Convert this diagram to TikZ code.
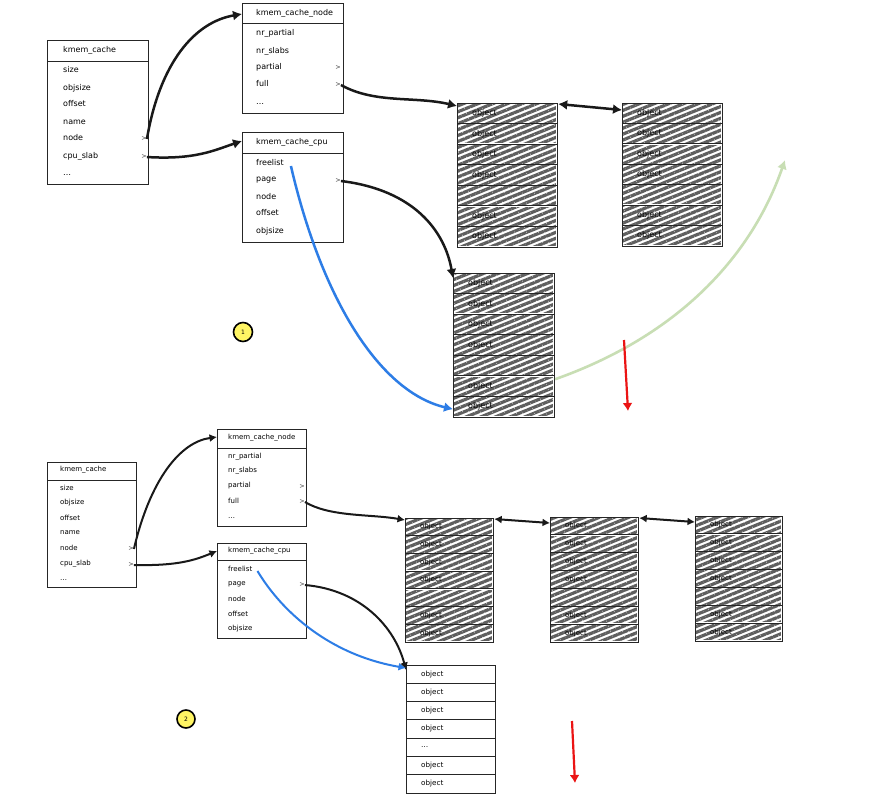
\documentclass[tikz,border=0pt]{standalone}
\usepackage{fontspec}
\setmainfont{DejaVu Sans}
\usetikzlibrary{arrows.meta,patterns.meta,calc}
\definecolor{hatchgray}{RGB}{95,95,95}
\definecolor{myblue}{RGB}{45,125,230}
\definecolor{mygreen}{RGB}{200,222,180}
\definecolor{myred}{RGB}{235,20,20}
\definecolor{myyellow}{RGB}{255,245,100}
\tikzset{
  box/.style={draw=black!85, line width=1.2pt, anchor=north west, inner sep=0pt},
  sepline/.style={draw=black!85, line width=0.9pt},
  fbig/.style={anchor=west, inner sep=0pt, font=\fontsize{8}{9}\selectfont},
  fsmall/.style={anchor=west, inner sep=0pt, font=\fontsize{7}{8}\selectfont},
  chev/.style={anchor=center, inner sep=0pt, font=\fontsize{6.5}{7}\selectfont, text=black!75},
  objbig/.style={anchor=west, inner sep=0pt, font=\fontsize{8}{9}\selectfont, text=black},
  objsmall/.style={anchor=west, inner sep=0pt, font=\fontsize{7}{8}\selectfont, text=black},
  objplain/.style={anchor=west, inner sep=0pt, font=\fontsize{7.2}{8}\selectfont},
  hatch/.style={pattern={Lines[angle=22,distance=5.5pt,line width=3.2pt]}, pattern color=hatchgray},
  plainrow/.style={},
  link/.style={line width=2.5pt, draw=black!90, -{Latex[length=9pt,width=10pt]}},
  dlink/.style={line width=2.5pt, draw=black!90, {Latex[length=9pt,width=10pt]}-{Latex[length=9pt,width=10pt]}},
  linkS/.style={line width=2pt, draw=black!90, -{Latex[length=7.5pt,width=8pt]}},
  dlinkS/.style={line width=2pt, draw=black!90, {Latex[length=7.5pt,width=8pt]}-{Latex[length=7.5pt,width=8pt]}},
  bluelink/.style={line width=2.5pt, draw=myblue, -{Latex[length=9pt,width=10pt]}},
  bluelinkS/.style={line width=2pt, draw=myblue, -{Latex[length=7.5pt,width=8pt]}},
  greenlink/.style={line width=2.6pt, draw=mygreen, -{Latex[length=9pt,width=10pt]}},
  redlink/.style={line width=2.2pt, draw=myred, -{Latex[length=8pt,width=10pt]}},
  badge/.style={circle, draw=black, line width=1.6pt, fill=myyellow, minimum size=19pt, inner sep=0pt, font=\fontsize{6}{7}\selectfont}
}
% slab: name, x, y, w, h, fill style, text style, labels
\newcommand{\slabstack}[8]{%
  \foreach \lab [count=\i from 0] in {#8} {
    \pgfmathsetmacro{\ya}{#3+\i*#5/7}
    \pgfmathsetmacro{\yb}{#3+(\i+1)*#5/7}
    \pgfmathsetmacro{\ym}{(\ya+\yb)/2}
    \path[#6] (#2+1.2,\ya+1.2) rectangle (#2+#4-1.2,\yb-1.2);
    \ifnum\i>0 \draw[sepline] (#2,\ya) -- (#2+#4,\ya); \fi
    \node[#7] (#1-r\i) at (#2+15,\ym) {\lab};
  }
  \node[box, minimum width=#4pt, minimum height=#5pt] (#1) at (#2,#3) {};
}
% fields: prefix, x, style, list text/y
\newcommand{\fieldlist}[4]{%
  \foreach \t/\yy [count=\k] in {#4} {\node[#3] (#1-f\k) at (#2,\yy) {\t};}
}
\begin{document}
\begin{tikzpicture}[x=1pt,y=-1pt]
\fill[white] (0,0) rectangle (884,801);
\useasboundingbox (0,0) rectangle (884,801);

% ---------------- section 1 ----------------
\node[box, minimum width=101pt, minimum height=144pt] (kc1) at (47,40) {};
\node[fbig] (kc1-t) at (63,50) {kmem\_cache};
\draw[sepline] (47,61) -- (148,61);
\fieldlist{kc1}{63}{fbig}{size/70, objsize/88, offset/104, name/122, node/138, cpu\_slab/156, \ldots/175}
\node[chev] (kc1-gn) at (144,139) {>};
\node[chev] (kc1-gc) at (144,157) {>};

\node[box, minimum width=101pt, minimum height=110pt] (kn1) at (242,3) {};
\node[fbig] (kn1-t) at (256,13) {kmem\_cache\_node};
\draw[sepline] (242,23) -- (343,23);
\fieldlist{kn1}{256}{fbig}{nr\_partial/33, nr\_slabs/51, partial/67, full/84, \ldots/104}
\node[chev] (kn1-gp) at (338,68) {>};
\node[chev] (kn1-gf) at (338,85) {>};

\node[box, minimum width=101pt, minimum height=110pt] (kp1) at (242,132) {};
\node[fbig] (kp1-t) at (256,142) {kmem\_cache\_cpu};
\draw[sepline] (242,153) -- (343,153);
\fieldlist{kp1}{256}{fbig}{freelist/163, page/180, node/197, offset/213, objsize/231}
\node[chev] (kp1-gp) at (338,181) {>};

\slabstack{sA}{457}{103}{100}{144}{hatch}{objbig}{object,object,object,object,{},object,object}
\slabstack{sB}{622}{103}{100}{143}{hatch}{objbig}{object,object,object,object,{},object,object}
\slabstack{sC}{453}{273}{101}{144}{hatch}{objbig}{object,object,object,object,{},object,object}

\node[badge] (b1) at (243,332) {1};
\coordinate (g1) at (785,160);
\coordinate (r1a) at (624,340);
\coordinate (r1b) at (628,411);

\draw[link] (kc1-gn.east) .. controls (160,62) and (195,22) .. ([yshift=-11pt]kn1.north west);
\draw[link] (kc1-gc.east) .. controls (195,160) and (215,150) .. ([yshift=-9pt]kp1.north west);
\draw[link] (kn1-gf.east) .. controls (375,104) and (415,96) .. ([yshift=-3pt]sA.north west);
\draw[dlink] ([yshift=-1pt]sA.north east) -- ([yshift=-7pt]sB.north west);
\draw[link] (kp1-gp.east) .. controls (415,190) and (445,232) .. ([yshift=-5pt]sC.north west);
\draw[bluelink] ([xshift=7pt,yshift=-3pt]kp1-f1.east) .. controls (322,300) and (380,392) .. ([yshift=9pt]sC.south west);
\draw[greenlink] ([yshift=39pt]sC.south east) .. controls (680,335) and (752,255) .. (g1);
\draw[redlink] (r1a) -- (r1b);

% ---------------- section 2 ----------------
\node[box, minimum width=89pt, minimum height=125pt] (kc2) at (47,462) {};
\node[fsmall] (kc2-t) at (60,470) {kmem\_cache};
\draw[sepline] (47,480) -- (136,480);
\fieldlist{kc2}{60}{fsmall}{size/488, objsize/503, offset/518, name/533, node/548, cpu\_slab/564, \ldots/580}
\node[chev] (kc2-gn) at (131,549) {>};
\node[chev] (kc2-gc) at (131,565) {>};

\node[box, minimum width=89pt, minimum height=97pt] (kn2) at (217,429) {};
\node[fsmall] (kn2-t) at (228,438) {kmem\_cache\_node};
\draw[sepline] (217,448) -- (306,448);
\fieldlist{kn2}{228}{fsmall}{nr\_partial/457, nr\_slabs/471, partial/486, full/501, \ldots/518}
\node[chev] (kn2-gp) at (302,487) {>};
\node[chev] (kn2-gf) at (302,502) {>};

\node[box, minimum width=89pt, minimum height=95pt] (kp2) at (217,543) {};
\node[fsmall] (kp2-t) at (228,551) {kmem\_cache\_cpu};
\draw[sepline] (217,560) -- (306,560);
\fieldlist{kp2}{228}{fsmall}{freelist/569, page/584, node/599, offset/614, objsize/629}
\node[chev] (kp2-gp) at (302,585) {>};

\slabstack{sD}{405}{518}{88}{124}{hatch}{objsmall}{object,object,object,object,{},object,object}
\slabstack{sE}{550}{517}{88}{125}{hatch}{objsmall}{object,object,object,object,{},object,object}
\slabstack{sF}{695}{516}{87}{125}{hatch}{objsmall}{object,object,object,object,{},object,object}
\slabstack{sG}{406}{665}{89}{128}{plainrow}{objplain}{object,object,object,object,\ldots,object,object}

\node[badge, minimum size=18pt] (b2) at (186,719) {2};
\coordinate (r2a) at (572,721);
\coordinate (r2b) at (575,783);

\draw[linkS] (kc2-gn.east) .. controls (150,480) and (180,442) .. ([yshift=-8pt]kn2.north west);
\draw[linkS] (kc2-gc.east) .. controls (178,566) and (195,560) .. ([yshift=-8pt]kp2.north west);
\draw[linkS] (kn2-gf.east) .. controls (330,517) and (370,514) .. ([yshift=-2pt]sD.north west);
\draw[dlinkS] ([yshift=-1pt]sD.north east) -- ([yshift=-6pt]sE.north west);
\draw[dlinkS] ([yshift=-1pt]sE.north east) -- ([yshift=-6pt]sF.north west);
\draw[linkS] (kp2-gp.east) .. controls (362,590) and (395,628) .. ([yshift=-5pt]sG.north west);
\draw[bluelinkS] ([xshift=5pt,yshift=-2pt]kp2-f1.east) .. controls (282,612) and (330,655) .. ([yshift=-3pt]sG.north west);
\draw[redlink] (r2a) -- (r2b);
\end{tikzpicture}
\end{document}
